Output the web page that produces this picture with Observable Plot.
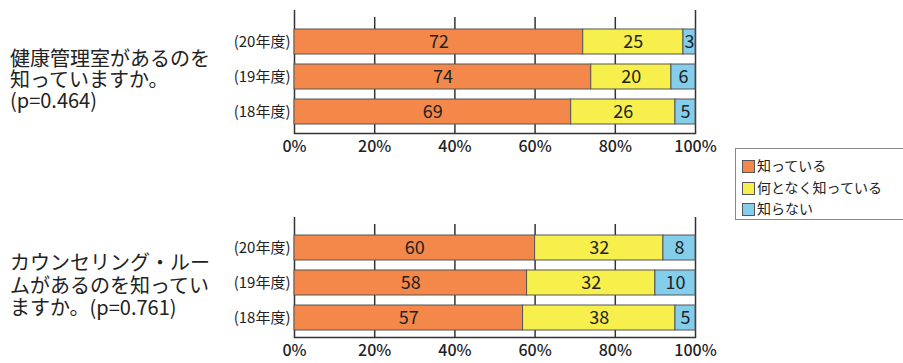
<!DOCTYPE html>
<html><head><meta charset="utf-8">
<script src="https://cdn.jsdelivr.net/npm/d3@7"></script>
<script src="https://cdn.jsdelivr.net/npm/@observablehq/plot@0.6"></script>
<style>
body{margin:0;background:#fff;}
#c{position:relative;width:903px;height:363px;overflow:hidden;font-family:"Noto Sans CJK JP","Noto Sans",sans-serif;color:#222;background:#fff;}
.q{position:absolute;left:10px;font-size:20px;white-space:nowrap;}
.p{position:absolute;left:0;}
.lg{position:absolute;left:735px;top:148px;width:190px;height:72px;border:1px solid #888;box-sizing:border-box;}
.li{position:absolute;left:6px;font-size:14px;line-height:16px;white-space:nowrap;}
.sw{display:inline-block;width:13px;height:13px;border:1px solid #555;box-sizing:border-box;vertical-align:-2px;margin-right:2px;}
</style>
</head><body>
<div id="c"></div>
<script>
const years = ["(20年度)", "(19年度)", "(18年度)"];
const categories = ["知っている", "何となく知っている", "知らない"];
const colors = ["#f4884b", "#f7ef4c", "#84cdeb"];
const xTicks = [0, 20, 40, 60, 80, 100];

const q1Lines = ["健康管理室があるのを", "知っていますか。", "(p=0.464)"];
const q1Known = [72, 74, 69];
const q1Somewhat = [25, 20, 26];
const q1Unknown = [3, 6, 5];

const q2Lines = ["カウンセリング・ルー", "ムがあるのを知ってい", "ますか。(p=0.761)"];
const q2Known = [60, 58, 57];
const q2Somewhat = [32, 32, 38];
const q2Unknown = [8, 10, 5];

const font = '"Noto Sans CJK JP","Noto Sans",sans-serif';
const c = document.getElementById("c");

function panel(series, lines, cfg) {
  const rows = [];
  years.forEach((y, i) => categories.forEach((cat, j) => rows.push({year: y, cat, value: series[j][i]})));
  const svg = Plot.plot({
    width: 903, height: cfg.h,
    marginLeft: 294, marginRight: 208, marginTop: cfg.mt, marginBottom: cfg.mb,
    style: {fontFamily: font, color: "#222", background: "transparent", overflow: "visible"},
    x: {domain: [0, 100]},
    y: {domain: years, range: cfg.yr, paddingInner: 10 / 35, paddingOuter: 0},
    color: {domain: categories, range: colors},
    marks: [
      Plot.ruleX(xTicks.filter(d => d > 0 && d < 100), {stroke: "#333", strokeWidth: 1.5, insetTop: 7}),
      Plot.ruleX([0, 100], {stroke: "#333", strokeWidth: 1.5}),
      Plot.frame({anchor: "bottom", stroke: "#333", strokeWidth: 1.5}),
      Plot.barX(rows, {x: "value", y: "year", fill: "cat", stroke: "#555", strokeWidth: 1}),
      Plot.text(rows, Plot.stackX({x: "value", y: "year", text: "value", fontSize: 18, fill: "#222"})),
      Plot.axisX({ticks: xTicks, tickSize: 0, tickPadding: 7, tickFormat: d => d + "%", fontSize: 16, fontWeight: 500, label: null}),
      Plot.axisY({tickSize: 0, tickPadding: 4, fontSize: 15, label: null})
    ]
  });
  const wrap = document.createElement("div");
  wrap.className = "p";
  wrap.style.top = cfg.top + "px";
  wrap.appendChild(svg);
  c.appendChild(wrap);
  const d = document.createElement("div");
  d.className = "q";
  d.style.top = cfg.textTop + "px";
  d.style.lineHeight = cfg.lh + "px";
  lines.forEach((t, i) => {
    if (i) d.appendChild(document.createElement("br"));
    d.appendChild(document.createTextNode(t));
  });
  c.appendChild(d);
}

panel([q1Known, q1Somewhat, q1Unknown], q1Lines, {top: 0, h: 165, mt: 10, mb: 32, yr: [29, 124], textTop: 47, lh: 21});
panel([q2Known, q2Somewhat, q2Unknown], q2Lines, {top: 190, h: 173, mt: 27, mb: 26, yr: [45, 140], textTop: 251, lh: 22.5});

const lg = document.createElement("div");
lg.className = "lg";
const rowY = [165, 187, 208];
categories.forEach((cat, i) => {
  const it = document.createElement("div");
  it.className = "li";
  it.style.top = (rowY[i] - 148 - 9) + "px";
  const sw = document.createElement("span");
  sw.className = "sw";
  sw.style.background = colors[i];
  it.appendChild(sw);
  it.appendChild(document.createTextNode(cat));
  lg.appendChild(it);
});
c.appendChild(lg);
</script>
</body></html>
